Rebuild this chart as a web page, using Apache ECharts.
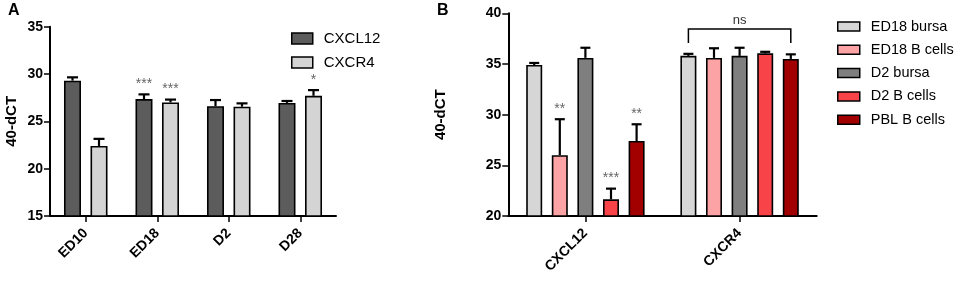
<!DOCTYPE html>
<html>
<head>
<meta charset="utf-8">
<script src="https://cdn.jsdelivr.net/npm/echarts@6/dist/echarts.min.js"></script>
<style>
  html, body { margin: 0; padding: 0; background: #fff; }
  #main { width: 957px; height: 281px; }
</style>
</head>
<body>
<div id="main"></div>
<script>
// panel A
const catsA = ['ED10', 'ED18', 'D2', 'D28'];
const cxcl12A = [29.3, 27.35, 26.6, 26.95];
const cxcl12ErrA = [0.35, 0.5, 0.65, 0.2];
const cxcl12SigA = ['', '***', '', ''];
const cxcr4A = [22.4, 27.0, 26.55, 27.7];
const cxcr4ErrA = [0.75, 0.3, 0.35, 0.6];
const cxcr4SigA = ['', '***', '', '*'];

// panel B
const catsB = ['CXCL12', 'CXCR4'];
const namesB = ['ED18 bursa', 'ED18 B cells', 'D2 bursa', 'D2 B cells', 'PBL B cells'];
const ed18Bursa = [34.9, 35.8];
const ed18BursaErr = [0.2, 0.2];
const ed18BCells = [26.0, 35.6];
const ed18BCellsErr = [3.55, 0.95];
const d2Bursa = [35.6, 35.8];
const d2BursaErr = [1.0, 0.8];
const d2BCells = [21.65, 36.05];
const d2BCellsErr = [1.05, 0.15];
const pblBCells = [27.4, 35.5];
const pblBCellsErr = [1.65, 0.45];
const sigB = [['', ''], ['**', ''], ['', ''], ['***', ''], ['**', '']];
const nsCat = 1;
const nsLabel = 'ns';
const nsLevel = 38.45;

const FONT = '"Liberation Sans", Arial, sans-serif';
const colorsA = ['#5c5c5c', '#d4d4d4'];
const colorsB = ['#d6d6d6', '#fca3a6', '#7f7f7f', '#f84348', '#a20000'];

var chart = echarts.init(document.getElementById('main'), null, { renderer: 'canvas' });

// error bar + asterisks, drawn at the bar's offset in its category
function errSeries(name, axis, vals, errs, sigs, offset, capW) {
  return {
    type: 'custom',
    name: name,
    xAxisIndex: axis,
    yAxisIndex: axis,
    z: 5,
    silent: true,
    data: vals.map(function (v, i) { return [i, v, errs[i], sigs[i]]; }),
    renderItem: function (params, api) {
      var i = api.value(0), v = api.value(1), e = api.value(2);
      var base = api.coord([i, v]);
      var top = api.coord([i, v + e]);
      var x = base[0] + offset;
      var kids = [
        { type: 'line', shape: { x1: x, y1: base[1], x2: x, y2: top[1] }, style: { stroke: '#000', lineWidth: 2.2 } },
        { type: 'line', shape: { x1: x - capW / 2, y1: top[1], x2: x + capW / 2, y2: top[1] }, style: { stroke: '#000', lineWidth: 2.2 } }
      ];
      var s = sigs[i];
      if (s) {
        kids.push({
          type: 'text',
          style: { text: s, x: x, y: top[1] - 17, align: 'center', verticalAlign: 'top', fill: '#666', font: '14px ' + FONT }
        });
      }
      return { type: 'group', children: kids };
    }
  };
}

function barSeries(name, axis, vals, color, w, gap) {
  return {
    type: 'bar',
    name: name,
    xAxisIndex: axis,
    yAxisIndex: axis,
    data: vals,
    barWidth: w,
    barGap: gap,
    itemStyle: { color: color, borderColor: '#000', borderWidth: 1.6 },
    emphasis: { disabled: true }
  };
}

var series = [];
series.push(barSeries('CXCL12', 0, cxcl12A, colorsA[0], 17, '56%'));
series.push(barSeries('CXCR4', 0, cxcr4A, colorsA[1], 17, '56%'));
series.push(errSeries('errA1', 0, cxcl12A, cxcl12ErrA, cxcl12SigA, -13.25, 11));
series.push(errSeries('errA2', 0, cxcr4A, cxcr4ErrA, cxcr4SigA, 13.25, 11));

var valsB = [ed18Bursa, ed18BCells, d2Bursa, d2BCells, pblBCells];
var errsB = [ed18BursaErr, ed18BCellsErr, d2BursaErr, d2BCellsErr, pblBCellsErr];
var stepB = 25.6;
namesB.forEach(function (n, k) {
  series.push(barSeries(n, 1, valsB[k], colorsB[k], 16, '60%'));
});
namesB.forEach(function (n, k) {
  series.push(errSeries('errB' + k, 1, valsB[k], errsB[k], sigB[k], (k - 2) * stepB, 10));
});

// ns bracket over CXCR4
series.push({
  type: 'custom',
  name: 'ns',
  xAxisIndex: 1,
  yAxisIndex: 1,
  z: 5,
  silent: true,
  data: [[nsCat, nsLevel]],
  renderItem: function (params, api) {
    var p = api.coord([api.value(0), api.value(1)]);
    var x1 = p[0] - 2 * stepB, x2 = p[0] + 2 * stepB, y = p[1];
    return {
      type: 'group',
      children: [
        { type: 'polyline', shape: { points: [[x1, y + 14], [x1, y], [x2, y], [x2, y + 14]] }, style: { stroke: '#000', lineWidth: 1.5, fill: null } },
        { type: 'text', style: { text: nsLabel, x: p[0], y: y - 2, align: 'center', verticalAlign: 'bottom', fill: '#333', font: '13px ' + FONT } }
      ]
    };
  }
});

function yAxis(idx, min, max, gap) {
  return {
    type: 'value',
    gridIndex: idx,
    min: min,
    max: max,
    interval: 5,
    name: '40-dCT',
    nameLocation: 'middle',
    nameGap: gap,
    nameTextStyle: { fontFamily: FONT, fontWeight: 'bold', fontSize: 15, color: '#000' },
    splitLine: { show: false },
    axisLine: { show: true, lineStyle: { color: '#000', width: 2 } },
    axisTick: { show: true, length: 6, lineStyle: { color: '#000', width: 1.5 } },
    axisLabel: { fontFamily: FONT, fontWeight: 'bold', fontSize: 14, color: '#000', margin: 7 }
  };
}

function xAxis(idx, cats) {
  return {
    type: 'category',
    gridIndex: idx,
    data: cats,
    axisLine: { show: true, lineStyle: { color: '#000', width: 2 } },
    axisTick: { show: true, alignWithLabel: true, length: 6, lineStyle: { color: '#000', width: 1.5 } },
    axisLabel: { rotate: 45, interval: 0, fontFamily: FONT, fontWeight: 'bold', fontSize: 14, color: '#000', margin: 15 }
  };
}

var option = {
  backgroundColor: '#fff',
  animation: false,
  grid: [
    { left: 50, top: 26.7, width: 286, height: 189.3 },
    { left: 508.3, top: 13.3, width: 308.4, height: 202.7 }
  ],
  xAxis: [xAxis(0, catsA), xAxis(1, catsB)],
  yAxis: [yAxis(0, 15, 35, 31), yAxis(1, 20, 40, 60)],
  legend: [
    {
      data: ['CXCL12', 'CXCR4'],
      orient: 'vertical',
      left: 291, top: 31,
      padding: 0,
      itemWidth: 21, itemHeight: 11, itemGap: 9,
      icon: 'rect',
      selectedMode: false,
      itemStyle: { borderColor: '#000', borderWidth: 1.5 },
      textStyle: { fontFamily: FONT, fontSize: 15, color: '#000', padding: [0, 0, 0, 6] }
    },
    {
      data: namesB,
      orient: 'vertical',
      left: 837, top: 19,
      padding: 0,
      itemWidth: 22, itemHeight: 9, itemGap: 8.3,
      icon: 'rect',
      selectedMode: false,
      itemStyle: { borderColor: '#000', borderWidth: 1.5 },
      textStyle: { fontFamily: FONT, fontSize: 14.5, color: '#000', padding: [0, 0, 0, 6] }
    }
  ],
  graphic: [
    { type: 'text', left: 8, top: 3, style: { text: 'A', font: 'bold 16px ' + FONT, fill: '#000' } },
    { type: 'text', left: 437, top: 3, style: { text: 'B', font: 'bold 16px ' + FONT, fill: '#000' } }
  ],
  series: series
};

chart.setOption(option);
</script>
</body>
</html>
